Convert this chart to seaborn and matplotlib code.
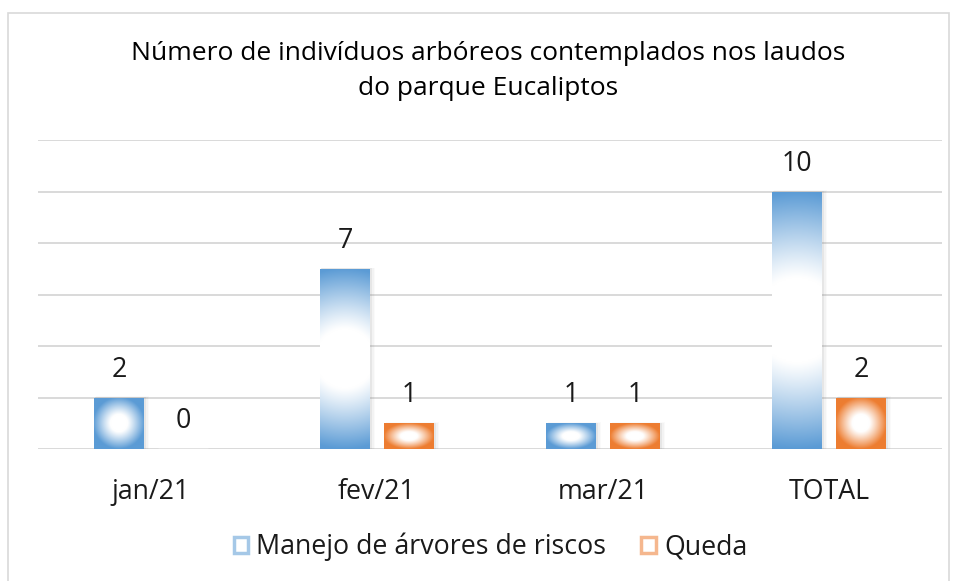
import numpy as np
import pandas as pd
import matplotlib
matplotlib.use("Agg")
import matplotlib.pyplot as plt
import seaborn as sns
from matplotlib.colors import to_rgb
from matplotlib.patches import Rectangle

# data
months = ["jan/21", "fev/21", "mar/21", "TOTAL"]
manejo = [2, 7, 1, 10]
queda = [0, 1, 1, 2]
series_names = ["Manejo de árvores de riscos", "Queda"]
colors = ["#5B9BD5", "#ED7D31"]

df = pd.DataFrame({
    "mes": months * 2,
    "valor": manejo + queda,
    "serie": [series_names[0]] * len(months) + [series_names[1]] * len(months),
})

sns.set_style("white")
plt.rcParams["font.family"] = ["Open Sans", "DejaVu Sans"]

FS = 19.3


def gradient_img(color, w_px, h_px, n=200):
    """Path-like gradient: white centre fading to color at the edges."""
    rgb = np.array(to_rgb(color))
    y, x = np.mgrid[-1:1:n * 1j, -1:1:n * 1j]
    k = min(1.0, w_px / max(h_px, 1e-6)) ** 2
    t = np.sqrt(k * x ** 2 + y ** 2)
    t = np.clip((t - 0.33) / 0.67, 0, 1) ** 1.1
    img = (1 - t[..., None]) * np.ones(3) + t[..., None] * rgb
    return img


fig = plt.figure(figsize=(9.56, 5.81), dpi=100)
ax = fig.add_axes([38 / 956, 1 - 449 / 581, 904 / 956, 309 / 581])

sns.barplot(data=df, x="mes", y="valor", hue="serie", palette=colors,
            width=0.566, gap=0.22, ax=ax, legend=False, zorder=3)

ax.set_ylim(0, 12)
ax.set_yticks(np.arange(0, 13, 2))
ax.yaxis.grid(True, color="#D9D9D9", linewidth=1.4, zorder=0)
ax.set_yticklabels([])
ax.tick_params(axis="y", length=0)
ax.tick_params(axis="x", length=0, labelsize=FS, pad=21, labelcolor="#1a1a1a")
ax.set_xlabel("")
ax.set_ylabel("")
for s in ax.spines.values():
    s.set_visible(False)

fig.canvas.draw()
ppx = ax.bbox.width / (ax.get_xlim()[1] - ax.get_xlim()[0])
ppy = ax.bbox.height / (ax.get_ylim()[1] - ax.get_ylim()[0])

for i, container in enumerate(ax.containers):
    col = colors[i]
    for bar, val in zip(container, [manejo, queda][i]):
        x0, w = bar.get_x(), bar.get_width()
        h = bar.get_height()
        if h > 0:
            # soft shadow
            for j, a in enumerate([0.10, 0.06, 0.03]):
                off = (j + 1) * 1.2
                ax.add_patch(Rectangle((x0 + off / ppx * 0.5, 0), w + off / ppx,
                                       h + off / ppy * 0.3, facecolor="#7f7f7f",
                                       alpha=a, edgecolor="none", zorder=2))
            img = gradient_img(col, w * ppx, h * ppy)
            im = ax.imshow(img, extent=[x0, x0 + w, 0, h], aspect="auto",
                           zorder=4, interpolation="bilinear")
            im.set_clip_path(bar)
            bar.set_facecolor("none")
            bar.set_edgecolor("none")
        ax.text(x0 + w / 2, h + 1.08, f"{val}", ha="center", va="center",
                fontsize=FS, color="#1a1a1a", zorder=5)

ax.set_aspect("auto")
ax.set_xlim(-0.5, len(months) - 0.5)
ax.set_ylim(0, 12)

fig.text(0.511, 1 - 71 / 581, "Número de indivíduos arbóreos contemplados nos laudos\ndo parque Eucaliptos",
         ha="center", va="center", fontsize=19, linespacing=1.55, color="#000000")

handles = [Rectangle((0, 0), 1, 1, facecolor=(1, 1, 1), edgecolor=c, linewidth=2.5, alpha=0.55)
           for c in colors]
fig.legend(handles, series_names, loc="center", bbox_to_anchor=(0.513, 1 - 547 / 581),
           ncol=2, frameon=False, fontsize=FS, handlelength=0.55, handleheight=0.55,
           handletextpad=0.3, columnspacing=1.3, labelcolor="#1a1a1a")

fig.patches.append(Rectangle((8 / 956, -0.01), 941 / 956, 1 - 13 / 581 + 0.01,
                             transform=fig.transFigure, facecolor="none",
                             edgecolor="#D9D9D9", linewidth=1.2))

fig.savefig("out.png", dpi=100)
